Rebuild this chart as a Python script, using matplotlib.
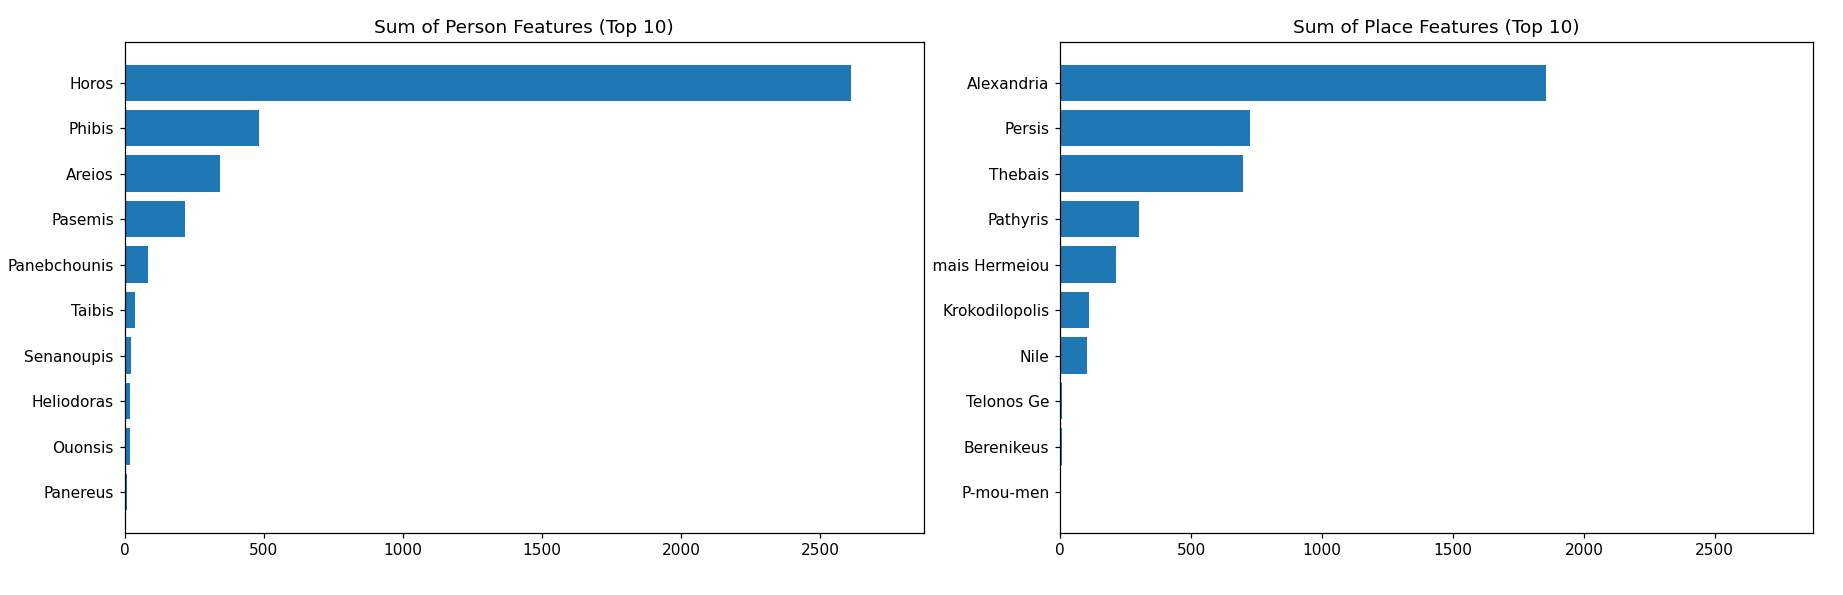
import matplotlib
matplotlib.use("Agg")
import matplotlib.pyplot as plt
from matplotlib.transforms import Bbox

person_names = ["Horos", "Phibis", "Areios", "Pasemis", "Panebchounis",
                "Taibis", "Senanoupis", "Heliodoras", "Ouonsis", "Panereus"]
person_values = [2612, 482, 342, 216, 84, 37, 24, 21, 19, 7]

place_names = ["Alexandria", "Persis", "Thebais", "Pathyris", "Ptolemais Hermeiou",
               "Krokodilopolis", "Nile", "Telonos Ge", "Berenikeus", "P-mou-men"]
place_values = [1855, 726, 699, 302, 212, 108, 102, 8, 6, 1]

s = 1.11
plt.rcParams.update({
    "font.size": 10 * s,
    "axes.titlesize": 12 * s,
    "axes.linewidth": 0.8 * s,
    "xtick.major.size": 3.5 * s,
    "ytick.major.size": 3.5 * s,
    "xtick.major.width": 0.8 * s,
    "ytick.major.width": 0.8 * s,
    "xtick.major.pad": 3.5 * s,
    "ytick.major.pad": 3.5 * s,
    "axes.titlepad": 6 * s,
})

fig = plt.figure(figsize=(18.43, 5.95), dpi=100)
ax1 = fig.add_axes([0.0676, 0.105, 0.4337, 0.824])
ax2 = fig.add_axes([0.5753, 0.105, 0.4082, 0.824], sharex=ax1)

ax1.barh(person_names[::-1], person_values[::-1], color="#1f77b4")
ax1.set_title("Sum of Person Features (Top 10)")
ax2.barh(place_names[::-1], place_values[::-1], color="#1f77b4")
ax2.set_title("Sum of Place Features (Top 10)")

xmax = max(max(person_values), max(place_values)) * 1.1
ax1.set_xlim(0, xmax)

# clip right-panel tick labels at the left edge as in reference
clip = Bbox.from_extents(933, 0, 1843, 595)
for lbl in ax2.get_yticklabels():
    lbl.set_clip_on(True)
    lbl.set_clip_box(clip)

fig.savefig("out.png", dpi=100)
